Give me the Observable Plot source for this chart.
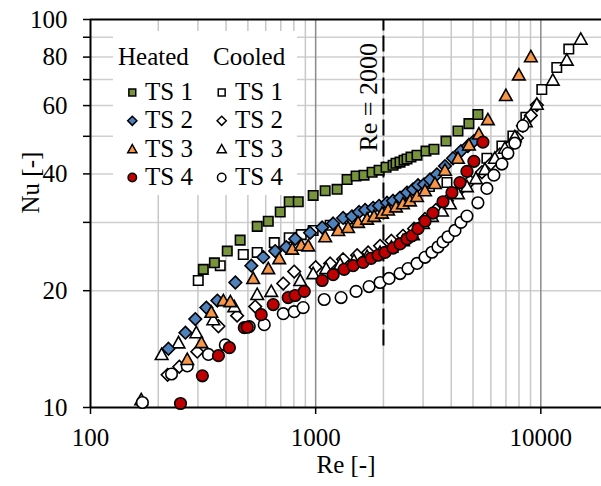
<!DOCTYPE html>
<html><head><meta charset="utf-8">
<script src="https://cdn.jsdelivr.net/npm/d3@7"></script>
<script src="https://cdn.jsdelivr.net/npm/@observablehq/plot@0.6"></script>
<style>body{margin:0;background:#fff}</style>
</head><body><div id="chart"></div>
<script>
// ---- data ----
const heatedTS1Re = [317,355,405,462,550,616,696,763,837,975,1102,1245,1379,1512,1640,1781,1913,2054,2207,2275,2370,2469,2545,2651,2819,3090,3353,3792,4286,4794,5255];
const heatedTS1Nu = [22.7,23.6,25.3,27.0,29.3,30.2,31.9,33.9,33.9,35.2,36.2,36.5,38.7,39.5,39.7,40.4,40.9,41.6,42.1,42.6,42.9,43.4,43.7,44.2,44.7,45.8,46.3,48.6,51.6,53.9,56.9];
const heatedTS2Re = [222,264,292,327,366,440,518,585,661,740,811,945,1069,1196,1324,1450,1559,1658,1800,1913,2075,2207,2370,2545,2706,2848,3029,3220,3455,3753,4075,4419,4745,5045];
const heatedTS2Nu = [14.17,15.59,16.9,18.09,18.86,21.0,23.2,24.4,25.3,25.9,27.2,28.2,29.1,29.8,30.8,31.1,31.9,32.3,32.7,33.1,33.7,34.1,34.75,35.8,36.5,37.4,37.6,38.7,39.9,41.9,43.9,45.8,47.2,48.6];
const heatedTS3Re = [269,311,344,389,418,528,616,689,787,863,927,1102,1260,1393,1543,1692,1818,1972,2097,2275,2443,2624,2819,3060,3388,3753,4286,4794,5309,5821,6996,7988,9033];
const heatedTS3Nu = [13.3,14.7,17.6,18.86,18.75,21.5,22.8,24.2,25.6,26.2,26.1,27.55,28.6,29.1,30.0,30.6,31.1,31.7,32.3,32.9,33.5,34.1,35.0,36.2,37.8,40.9,43.9,47.5,50.7,55.2,63.7,72.0,80.2];
const heatedTS4Re = [251,314,370,414,482,497,573,648,755,811,890,1069,1196,1338,1467,1624,1763,1893,2033,2207,2370,2545,2679,2848,3060,3320,3677,4031,4374,4698,5045,5531];
const heatedTS4Nu = [10.24,12.07,13.6,14.26,16.06,16.1,17.35,18.42,19.2,19.44,19.92,21.25,22.0,22.7,23.2,23.65,24.23,24.68,25.1,25.76,26.4,27.2,27.7,28.9,30.2,31.7,33.9,35.8,38.0,40.6,43.1,48.3];
const cooledTS1Re = [301,377,477,550,655,763,863,975,1160,1420,1745,2140,2624,3200,3830,5761,6716,7514,8581,10102,11774,13313];
const cooledTS1Nu = [21.25,23.2,24.8,25.1,26.6,27.4,27.9,28.6,29.5,30.6,31.7,33.1,34.8,37.1,38.0,43.9,47.2,50.1,56.0,66.0,75.2,83.9];
const cooledTS2Re = [220,248,298,370,448,539,718,803,1000,1160,1324,1528,1710,1932,2170,2443,2735,3060,3420,3830,4330,4843,5475,6001,6580,7288,7830,8322,9033,9601];
const cooledTS2Nu = [12.14,12.74,13.93,16.2,17.25,18.2,20.87,22.4,23.0,23.5,24.1,24.7,25.1,26.1,26.9,27.7,28.9,30.6,32.3,34.1,36.3,38.3,40.4,42.5,44.9,47.2,49.5,53.2,56.6,60.2];
const cooledTS3Re = [168,207,246,295,351,435,550,635,854,975,1113,1285,1480,1692,1932,2170,2443,2706,2998,3285,3640,3950,4286,4698,5150,5645,6250,6925,7669,8581,9601,11305,13043,15046];
const cooledTS3Nu = [10.47,13.7,14.68,15.59,16.84,18.2,19.56,19.92,21.25,22.14,22.8,23.4,23.9,24.5,25.1,25.9,26.9,27.9,29.8,31.1,32.1,33.5,35.6,37.1,38.9,41.1,43.9,46.6,49.9,54.5,60.5,69.8,78.6,89.0];
const cooledTS4Re = [170,229,269,334,397,507,591,718,803,880,1091,1297,1512,1727,1932,2118,2370,2571,2819,3060,3285,3493,3677,3870,4157,4419,4698,5255,5761,6188,6716,7140,7669,8322];
const cooledTS4Nu = [10.3,12.2,12.8,13.7,14.5,16.16,16.35,17.45,17.66,18.09,18.98,19.2,19.92,20.5,21.0,21.51,22.14,22.81,23.51,24.38,25.13,25.92,26.72,27.55,28.6,30.0,31.14,33.7,36.69,39.7,42.4,45.2,48.0,53.2];

const xTicks = [100, 1000, 10000];
const xMinorGrid = [200,300,400,500,600,700,800,900,2000,3000,4000,5000,6000,7000,8000,9000];
const xMajorGrid = [1000, 10000];
const yTicks = [10,20,30,40,50,60,70,80,90,100];
const yTickLabels = [10,20,40,60,80,100];
const yGrid = [20,30,40,50,60,70,80,90];
const refRe = [2000];
const refLabel = ["Re = 2000"];
const xTitle = ["Re [-]"];
const yTitle = ["Nu [-]"];
const legendHeaders = ["Heated", "Cooled"];
const legendLabels = ["TS 1", "TS 2", "TS 3", "TS 4"];

// ---- marker shapes (Excel-like) ----
const K = s => Math.sqrt(s / Math.PI);
const symSquare = {draw(c, s){const r = 0.75*K(s); c.moveTo(-r,-r); c.lineTo(r,-r); c.lineTo(r,r); c.lineTo(-r,r); c.closePath();}};
const symDiamond = {draw(c, s){const r = 1.0*K(s); c.moveTo(0,-r); c.lineTo(r,0); c.lineTo(0,r); c.lineTo(-r,0); c.closePath();}};
const symTriangle = {draw(c, s){const k = K(s); c.moveTo(0,-1.0*k); c.lineTo(1.0*k,0.8*k); c.lineTo(-1.0*k,0.8*k); c.closePath();}};
const symCircle = {draw(c, s){const r = 0.92*K(s); c.moveTo(r,0); c.arc(0,0,r,0,2*Math.PI);}};
const shapes = [symSquare, symDiamond, symTriangle, symCircle];
const heatFills = ["#77933C", "#4F81BD", "#F79646", "#C00000"];

const heated = [[heatedTS1Re, heatedTS1Nu],[heatedTS2Re, heatedTS2Nu],[heatedTS3Re, heatedTS3Nu],[heatedTS4Re, heatedTS4Nu]];
const cooled = [[cooledTS1Re, cooledTS1Nu],[cooledTS2Re, cooledTS2Nu],[cooledTS3Re, cooledTS3Nu],[cooledTS4Re, cooledTS4Nu]];
const toRows = ([re, nu]) => re.map((r, i) => ({Re: r, Nu: nu[i]}));

const dotMarks = [];
cooled.forEach((s, i) => dotMarks.push(Plot.dot(toRows(s), {x: "Re", y: "Nu", r: 6.3, symbol: shapes[i], fill: "white", stroke: "black", strokeWidth: 1.6})));
heated.forEach((s, i) => dotMarks.push(Plot.dot(toRows(s), {x: "Re", y: "Nu", r: 6.3, symbol: shapes[i], fill: heatFills[i], stroke: "black", strokeWidth: 1.6})));

const FONT = "'Liberation Serif', 'Times New Roman', serif";

const plot = Plot.plot({
  width: 601, height: 486,
  marginLeft: 90, marginRight: 0, marginTop: 19, marginBottom: 79,
  style: {fontFamily: FONT, fontSize: "25px", background: "white", color: "black", overflow: "visible"},
  x: {type: "log", domain: [100, 18600]},
  y: {type: "log", domain: [10, 100]},
  marks: [
    Plot.ruleY(yGrid, {stroke: "#cfcfcf", strokeWidth: 1.5}),
    Plot.ruleX(xMinorGrid, {stroke: "#c8c8c8", strokeWidth: 1.5}),
    Plot.ruleX(xMajorGrid, {stroke: "#8a8a8a", strokeWidth: 1.5}),
    Plot.ruleY([10, 100], {stroke: "black", strokeWidth: 2}),
    Plot.ruleX([100], {stroke: "black", strokeWidth: 2}),
    Plot.axisX({ticks: xTicks, tickSize: 7, tickPadding: 14, tickFormat: d => String(d), label: null, strokeWidth: 1.5, fontSize: 25}),
    Plot.axisY({ticks: yTicks, tickSize: 7, tickPadding: 16, tickFormat: d => yTickLabels.includes(d) ? String(d) : "", label: null, strokeWidth: 1.5, fontSize: 25}),
    Plot.ruleX(refRe, {y1: 14.4, y2: 99.5, stroke: "black", strokeWidth: 2, strokeDasharray: "16,5"}),
    Plot.text(refLabel, {x: refRe[0], y: 63, text: d => d, rotate: -90, dx: -15, fontSize: 26, fill: "black"}),
    Plot.text(xTitle, {frameAnchor: "bottom", dy: 65, text: d => d, fontSize: 25, fill: "black"}),
    Plot.text(yTitle, {frameAnchor: "left", dx: -60, text: d => d, rotate: -90, fontSize: 25, fill: "black"}),
    ...dotMarks
  ]
});

// ---- legend (white box inside plot) ----
const svg = d3.select(plot);
const lg = svg.append("g").attr("font-family", FONT).attr("font-size", 25).attr("text-anchor", "start").attr("fill", "black");
lg.append("rect").attr("x", 113).attr("y", 31).attr("width", 184).attr("height", 164).attr("fill", "white");
lg.append("text").attr("x", 118).attr("y", 65).text(legendHeaders[0]);
lg.append("text").attr("x", 213).attr("y", 65).text(legendHeaders[1]);
legendLabels.forEach((lab, i) => {
  const base = 100 + i * 28.3;
  lg.append("path").attr("d", d3.symbol(shapes[i], Math.PI * 4.6 * 4.6)()).attr("transform", `translate(132.3,${base - 7.5})`)
    .attr("fill", heatFills[i]).attr("stroke", "black").attr("stroke-width", 1.5);
  lg.append("text").attr("x", 145).attr("y", base).text(lab);
  lg.append("path").attr("d", d3.symbol(shapes[i], Math.PI * 4.6 * 4.6)()).attr("transform", `translate(221.7,${base - 7.5})`)
    .attr("fill", "white").attr("stroke", "black").attr("stroke-width", 1.5);
  lg.append("text").attr("x", 235).attr("y", base).text(lab);
});

document.getElementById("chart").append(plot);
</script></body></html>
